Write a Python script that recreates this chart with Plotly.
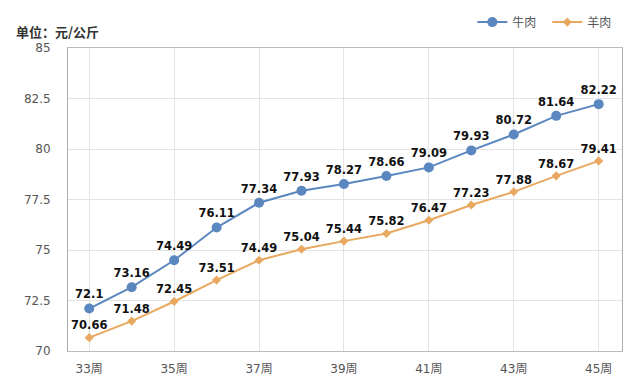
import plotly.graph_objects as go

weeks = [33, 34, 35, 36, 37, 38, 39, 40, 41, 42, 43, 44, 45]
beef = [72.1, 73.16, 74.49, 76.11, 77.34, 77.93, 78.27, 78.66, 79.09, 79.93, 80.72, 81.64, 82.22]
mutton = [70.66, 71.48, 72.45, 73.51, 74.49, 75.04, 75.44, 75.82, 76.47, 77.23, 77.88, 78.67, 79.41]
tick_weeks = [33, 35, 37, 39, 41, 43, 45]
tick_labels = ["33周", "35周", "37周", "39周", "41周", "43周", "45周"]
y_ticks = [70, 72.5, 75, 77.5, 80, 82.5, 85]
y_labels = ["70", "72.5", "75", "77.5", "80", "82.5", "85"]

BLUE = "#5b87c0"
ORANGE = "#e8a860"
FONT = "DejaVu Sans, Noto Sans CJK SC, sans-serif"
CJK = "Noto Sans CJK SC, sans-serif"

fig = go.Figure()
fig.add_trace(go.Scatter(
    x=weeks, y=beef, name="牛肉", mode="lines+markers+text",
    line=dict(color=BLUE, width=2), marker=dict(color=BLUE, size=10, symbol="circle"),
    text=[str(v) for v in beef], textposition="top center",
    textfont=dict(family=FONT, size=11.5, color="#111", weight="bold"),
))
fig.add_trace(go.Scatter(
    x=weeks, y=mutton, name="羊肉", mode="lines+markers+text",
    line=dict(color=ORANGE, width=2), marker=dict(color=ORANGE, size=7, symbol="diamond"),
    text=[str(v) for v in mutton], textposition="top center",
    textfont=dict(family=FONT, size=11.5, color="#111", weight="bold"),
))

fig.update_layout(
    width=632, height=381,
    margin=dict(l=60, r=18, t=40, b=38, autoexpand=False),
    paper_bgcolor="white", plot_bgcolor="white",
    font=dict(family=FONT, size=12, color="#555"),
    showlegend=True,
    legend=dict(orientation="h", xref="container", yref="container",
                x=0.972, xanchor="right", y=0.963, yanchor="middle",
                font=dict(size=12, color="#555", family=CJK), itemwidth=30, entrywidth=30,
                traceorder="normal", bgcolor="rgba(0,0,0,0)"),
    annotations=[dict(text="<b>单位：元/公斤</b>", xref="paper", yref="paper",
                      x=-0.0975, y=1.015, xanchor="left", yanchor="bottom", showarrow=False,
                      font=dict(size=13, color="#333", family=CJK))],
)
fig.update_xaxes(range=[32.5, 45.55], tickvals=tick_weeks, ticktext=tick_labels,
                 showgrid=True, gridcolor="#e3e3e3", gridwidth=1, automargin=False,
                 showline=True, linecolor="#bbb", linewidth=1, mirror=True,
                 ticks="", ticklabelstandoff=7, zeroline=False,
                 tickfont=dict(size=12, color="#555"))
fig.update_yaxes(range=[70, 85], tickvals=y_ticks, ticktext=y_labels,
                 showgrid=True, gridcolor="#e3e3e3", gridwidth=1, automargin=False,
                 showline=True, linecolor="#aaa", linewidth=1, mirror=True,
                 ticks="", ticklabelstandoff=14, zeroline=False,
                 tickfont=dict(size=12, color="#555"))

fig.write_html("out.html")
